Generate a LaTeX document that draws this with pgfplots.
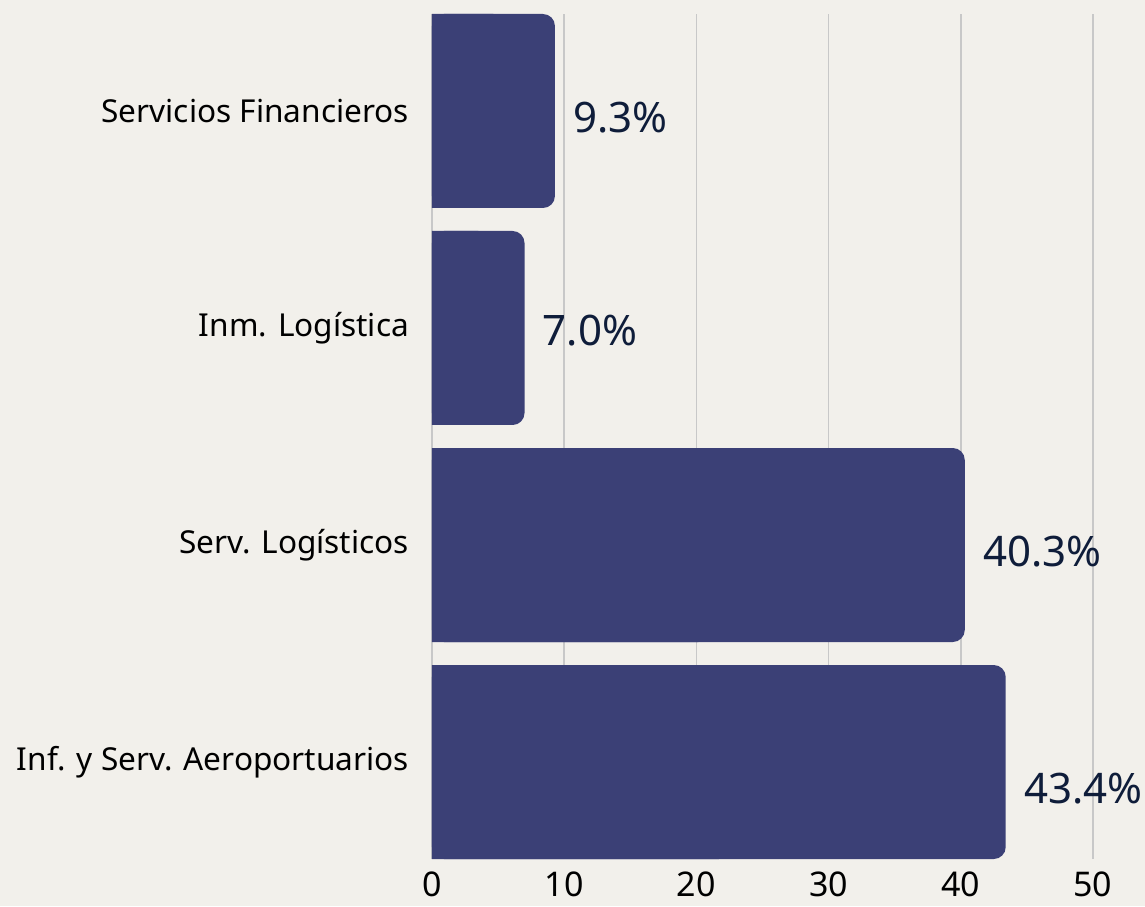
\documentclass[border=0pt]{standalone}
\usepackage{pgfplots}
\pgfplotsset{compat=1.18}
\usepackage{pgfplotstable}
\usepackage{fontspec}
\setmainfont{Noto Sans}
\usetikzlibrary{backgrounds}
\definecolor{bg}{HTML}{F2F0EB}
\definecolor{barc}{HTML}{3B4076}
\definecolor{gridc}{HTML}{C8C8C8}
\definecolor{lblc}{HTML}{0F1D3A}
\pgfplotstableread{
y value ly
0 43.4 -0.124
1 40.3 0.972
2 7.0 1.986
3 9.3 2.968
}\data
\begin{document}
\begin{tikzpicture}
\begin{axis}[name=ax, scale only axis, width=330.5pt, height=422.5pt,
 xmin=0, xmax=50, ymin=-0.447, ymax=3.447,
 xtick={0,10,20,30,40,50}, ytick={0,1,2,3},
 yticklabels={Inf. y Serv. Aeroportuarios, Serv. Logísticos, Inm. Logística, Servicios Financieros},
 axis line style={draw=none}, major tick length=0pt,
 xmajorgrids, major grid style={gridc, line width=0.75pt},
 clip=false,
 /pgf/number format/assume math mode=true,
 xticklabel style={font=\fontsize{17}{19}\selectfont, text=black, inner sep=0pt, yshift=-6pt},
 yticklabel style={font=\fontsize{15.8}{18}\selectfont, text=black, xshift=-8pt},
]
\addplot[xbar, bar shift=0pt, bar width=0.894, fill=barc, draw=none, rounded corners=6pt] table[x=value, y=y] {\data};
\addplot[xbar, bar shift=0pt, bar width=0.894, fill=barc, draw=none] table[x expr=\thisrow{value}/2, y=y] {\data};
\addplot[draw=none, mark=none, nodes near coords={\pgfmathprintnumber[fixed, fixed zerofill, precision=1]{\pgfplotspointmeta}\%}, point meta=explicit, nodes near coords style={anchor=west, inner sep=0pt, xshift=9pt, font=\fontsize{21}{25}\selectfont, text=lblc}] table[x=value, y=ly, meta=value] {\data};
\end{axis}
\coordinate (BL) at ([xshift=-216pt,yshift=-23.5pt]ax.south west);
\coordinate (TR) at ([xshift=26pt,yshift=7pt]ax.north east);
\begin{scope}[on background layer]
\fill[bg] (BL) rectangle (TR);
\end{scope}
\pgfresetboundingbox
\path[use as bounding box] (BL) rectangle (TR);
\end{tikzpicture}
\end{document}
